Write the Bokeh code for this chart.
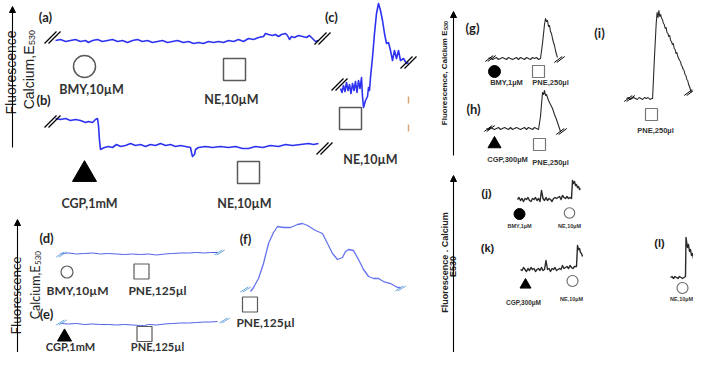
from bokeh.plotting import figure
from bokeh.models import Range1d, Arrow, NormalHead
from bokeh.core.properties import value
from bokeh.embed import file_html
from bokeh.resources import INLINE

# ---------------- data (time, relative fluorescence) ----------------
a_t = [0,5,10,15,20,25,30,33,37,42,47,52,57,62,67,72,77,82,87,92,97,102,107,112,117,122,128,133,138,143,
       148,153,158,163,168,173,178,183,188,193,198,203,208,210,213,217,220,223,226,230,232,234,236,239,243,
       247,251,254,257,260,263]
a_f = [0,1,-1,0,1,-1,0,-2,0,1,-1,0,1,-1,0,-2,0,1,-1,0,-2,-1,0,-2,-1,0,-2,-1,-3,-2,
       -3,-1,-2,-1,-2,0,-1,1,-1,2,1,3,4,7,6,5,6,4,6,7,5,1,4,3,5,
       4,3,5,2,-1,0]

b_t = [0,5,10,15,20,25,30,33,37,40,42,43,44,45,49,53,57,61,65,70,75,80,85,90,95,100,105,110,115,120,
       125,130,135,136,137,139,140,143,150,157,165,173,180,187,193,200,207,215,223,230,237,245,253,258,263]
b_f = [0,-1,0,-2,-1,-2,-4,-3,-4,-1,0,-7,-22,-31,-29,-28,-29,-26,-28,-27,-25,-27,-26,-28,-26,-27,-25,-27,-26,-28,
       -27,-28,-29,-34,-38,-36,-31,-29,-28,-29,-28,-29,-28,-30,-30,-28,-29,-27,-28,-26,-27,-26,-25,-26,-25]

c_t = [0,1.5,3,4.5,6,7.5,9,10.5,12,13.5,15,16.5,18,19.5,21,22,23,25,27,28,
       29,30,32,34,36,38,40,42,44,46,48,50,52,54,56,58,60,63,66,68]
c_f = [0,-4,3,-3,6,-2,4,-5,5,-2,7,-4,8,0,11,-8,-19,-12,-8,1,
       -2,11,31,55,75,85,78,68,55,45,46,38,28,38,30,38,28,30,25,26]

d_t = [0,8,16,24,32,40,48,56,64,72,80,88,96,104,112,120,128,136,144,150,157]
d_f = [0,0.5,-0.5,0,0.5,-0.5,0,-0.5,-1,-0.5,-1,-0.5,-1.5,-0.5,0,0.5,0.5,1,0.5,1,1]

e_t = [0,8,16,24,32,40,48,56,64,72,80,83,83.5,84,88,96,104,112,120,128,136,144,150,157]
e_f = [0,-0.5,0,-1,-0.5,-1,-1,-1.5,-1,-1.5,-2,-2,-5,-2,-1,-1.5,-0.5,0,0.5,0.5,1,1.5,1.5,2]

f_t = [0,3,8,13,18,23,27,33,40,47,52,57,65,72,77,82,87,92,95,98,103,108,113,118,123,128,133,140,147,150]
f_f = [0,4,13,28,48,59,65,64,64,67,68,66,61,58,48,38,32,34,40,42,41,32,22,15,13,13,10,8,4,4]

g_t = [0,2,4,6,8,10,12,14,16,18,20,22,24,26,28,30,32,34,36,38,40,42,44,46,48,50,52,
       54,56,57,58,59,60,61,62,63,64,65,66,67,68,69]
g_f = [0,1,-1,0,1,-1,0,1,0,-1,1,0,-1,0,1,-1,1,0,-1,1,0,-1,1,0,1,-1,0,
       15,34,40,37,38,32,33,27,25,20,16,13,8,4,1]

h_t = [0,2,4,6,8,10,12,14,16,18,20,22,24,26,28,30,32,34,36,38,40,42,44,46,48,50,52,
       54,56,57,58,59,60,62,64,66,68,70,72,74]
h_f = [0,-1,1,0,-1,0,1,-1,0,1,0,-1,1,-1,0,1,0,-1,0,1,-1,1,0,-1,1,0,-1,
       12,36,34,38,33,34,28,24,20,14,9,3,-3]

i_t = [0,2,4,6,8,10,12,14,16,18,20,22,24,26,28,29,31,33,34,35,36,37,38,
       39,40,41,42,43,44,45,46,47,48,49,50,51,52,53,54,55,56,57,58,59,60,61,62,63,64,65,66,67,68,69,70,71,72]
i_f = [0,1,-1,0,1,0,-1,1,0,-1,1,0,1,-1,0,0,40,75,86,81,88,82,84,
       80,79,75,74,70,71,66,65,62,63,58,57,54,55,50,49,45,46,42,40,38,37,33,32,29,28,24,23,19,18,14,12,9,6]

j_t = [0,1.5,3,4.5,6,7.5,9,10.5,12,13.5,15,16.5,18,19.5,21,22.5,24,25.5,27,28.5,30,31.5,33,34.5,36,37.5,
       39,40.5,42,43.5,45,46.5,48,49.5,51,52.5,54,55,56,57,58,59,60,61,62,63]
j_f = [0,2,-1,1,-2,1,0,2,-1,-2,1,0,2,-1,1,-2,9,1,-1,2,-1,1,0,-2,1,2,
       1,2,3,0,4,2,1,3,1,2,1,19,16,18,14,15,12,13,10,11]

k_t = [0,1.5,3,4.5,6,7.5,9,10.5,12,13.5,15,16.5,18,19.5,21,22.5,24,25.5,27,28.5,30,31.5,33,34.5,36,37.5,
       39,40.5,42,43.5,45,46.5,48,49.5,51,52.5,54,56,57,58,59,60,61,62]
k_f = [0,-1,2,0,-2,1,-1,2,0,1,-2,0,1,-1,2,-1,0,9,0,1,-2,1,0,2,-1,0,
       1,0,4,1,2,3,1,4,2,1,3,3,24,20,21,17,16,13]

l_t = [0,1.5,3,4.5,6,7.5,9,10.5,12,13.5,15,15.5,17,18,19,20,21,22,23,24]
l_f = [0,1,-1,1,0,-1,1,0,-1,0,1,40,30,33,26,28,22,24,19,18]

# ---------------- canvas (pixel layout) ----------------
W, H = 693, 352
p = figure(width=W, height=H, x_range=Range1d(0, W), y_range=Range1d(H, 0),
           output_backend="svg", toolbar_location=None, x_axis_type=None, y_axis_type=None,
           min_border=0, outline_line_color=None)
p.grid.visible = False
p.background_fill_color = "white"
p.border_fill_color = "white"


def trace(t, f, x0, y0, color, lw, sx=1.0, sy=1.0):
    p.line([x0 + sx * v for v in t], [y0 - sy * v for v in f],
           line_color=color, line_width=lw, line_join="round")


BLUE = "#2c32f0"
LBLUE = "#5262e6"
FBLUE = "#6573ee"
DARK = "#2a2a2a"

trace(a_t, a_f, 55, 40, BLUE, 1.6)
trace(b_t, b_f, 55, 118, BLUE, 1.6)
trace(c_t, c_f, 340, 88, BLUE, 1.6)
trace(d_t, d_f, 60, 253, LBLUE, 1.0)
trace(e_t, e_f, 60, 323, LBLUE, 1.0)
trace(f_t, f_f, 250, 291, FBLUE, 1.3)
trace(g_t, g_f, 488, 58, DARK, 1.1)
trace(h_t, h_f, 486, 128, DARK, 1.1)
trace(i_t, i_f, 626, 98, DARK, 1.1, sx=0.9)
trace(j_t, j_f, 517, 199, DARK, 1.4)
trace(k_t, k_f, 520, 269, DARK, 1.4)
trace(l_t, l_f, 670, 277, DARK, 1.4)


def breaks(centers, hx, hy, gap, color, lw):
    x0, y0, x1, y1 = [], [], [], []
    for cx, cy in centers:
        for off in (-gap / 2, gap / 2):
            x0.append(cx + off - hx); y0.append(cy + hy)
            x1.append(cx + off + hx); y1.append(cy - hy)
    p.segment(x0, y0, x1, y1, line_color=color, line_width=lw)


breaks([(52, 37), (322, 38), (52, 121), (324, 148), (339, 84), (408, 62)], 6, 6, 4, "black", 1.2)
breaks([(61, 254), (219, 252), (61, 322), (224, 320), (245, 289), (400, 288)], 4, 2.5, 2.5, "#6fa8dc", 1.0)
breaks([(490, 58), (559, 59), (489, 128), (561, 131), (629, 98), (689, 92)], 4, 3, 2.5, "black", 1.0)

# small tan ticks right of panel (c)
p.segment([408, 408], [96, 124], [408, 408], [103, 131], line_color="#d6a676", line_width=1.5)

# axis arrows
for x, yb, yt in [(12, 147, 6), (17, 352, 219), (453, 155, 11), (453, 352, 175)]:
    p.add_layout(Arrow(end=NormalHead(size=6, line_color="black", fill_color="black", line_width=1),
                       x_start=x, y_start=yb, x_end=x, y_end=yt, line_color="black", line_width=1.1))


def mk(x, y, marker, size, fill="white", line="#5a5a5a", lw=1.5):
    p.scatter([x], [y], marker=marker, size=size, fill_color=fill, line_color=line, line_width=lw)


mk(84, 66, "circle", 22)
mk(234, 69, "square", 22)
mk(84, 174, "triangle", 24, fill="black", line="black", lw=1)
mk(248, 172, "square", 22)
mk(350, 118, "square", 22)
mk(66.5, 271.5, "circle", 12, lw=1.2)
mk(141, 271, "square", 15, lw=1.2)
mk(64, 336.5, "triangle", 14, fill="black", line="black", lw=1)
mk(144, 333.5, "square", 15, lw=1.2)
mk(249.5, 304, "square", 15, lw=1.2)
mk(494, 71, "circle", 12, fill="black", line="black", lw=1)
mk(538, 71, "square", 12, line="#777", lw=1.2)
mk(494, 143.5, "triangle", 13, fill="black", line="black", lw=1)
mk(539, 144, "square", 12, line="#777", lw=1.2)
mk(651, 114, "square", 12, line="#777", lw=1.2)
mk(519, 213.5, "circle", 11, fill="black", line="black", lw=1)
mk(569, 212.5, "circle", 10.5, line="#666", lw=1.1)
mk(525, 284.4, "triangle", 11, fill="black", line="black", lw=1)
mk(572, 280.5, "circle", 11, line="#666", lw=1.1)
mk(682, 287.5, "circle", 11, line="#666", lw=1.1)


def label(x, y, s, size, font="Lato", style="bold", color="#333333", angle=0.0,
          align="center", baseline="middle"):
    p.text(x=[x], y=[y], text=[s], text_font=value(font), text_font_size=f"{size}px",
           text_font_style=style, text_color=color, angle=angle,
           text_align=align, text_baseline=baseline)


V = 1.5707963267948966
# axis titles (rotated)
label(10.5, 72, "Fluorescence", 14, font="Liberation Sans", style="normal", color="#222", angle=V,
      baseline="alphabetic")
label(28.5, 45, "Calcium,E", 14, font="Liberation Sans", style="normal", color="#222", angle=V,
      align="right", baseline="alphabetic")
label(31.5, 44.5, "530", 9, font="Liberation Sans", style="normal", color="#222", angle=V,
      align="left", baseline="alphabetic")
label(15, 295, "Fluorescence", 13.5, style="normal", color="#222", angle=V, baseline="alphabetic")
label(35, 265, "Calcium,E", 12.5, style="normal", color="#222", angle=V,
      align="right", baseline="alphabetic")
label(37.5, 264.5, "530", 8, style="normal", color="#222", angle=V,
      align="left", baseline="alphabetic")
label(444, 30, "Fluorescence, Calcium E", 8, font="Liberation Sans", color="#222", angle=V,
      align="right", baseline="alphabetic")
label(445.5, 29.5, "530", 5.5, font="Liberation Sans", color="#222", angle=V,
      align="left", baseline="alphabetic")
label(444, 262, "Fluorescence . Calcium", 9, font="Liberation Sans", color="#222", angle=V,
      baseline="alphabetic")
label(452, 266, "E530", 9, font="Liberation Sans", color="#222", angle=V, baseline="alphabetic")

# panel letters
for x, y, s in [(45, 16, "(a)"), (43, 99, "(b)"), (331, 16, "(c)"), (46, 237, "(d)"),
                (46, 313, "(e)"), (245, 238, "(f)"), (472, 27, "(g)"), (473, 108, "(h)"),
                (599, 32, "(i)")]:
    label(x, y, s, 13, color="#222")
for x, y, s in [(486, 192, "(j)"), (487, 247, "(k)"), (659, 242, "(l)")]:
    label(x, y, s, 11, font="Liberation Sans", color="#222")

# drug labels
for x, y, s in [(91, 89, "BMY,10µM"), (231, 99, "NE,10µM"), (89, 203, "CGP,1mM"),
                (244, 203, "NE,10µM"), (370, 159, "NE,10µM")]:
    label(x, y, s, 12.5)
for x, y, s in [(77, 290, "BMY,10µM"), (157, 290, "PNE,125µl"), (265, 322, "PNE,125µl")]:
    label(x, y, s, 12)
for x, y, s in [(70, 345.5, "CGP,1mM"), (157, 345.5, "PNE,125µl")]:
    label(x, y, s, 11)
for x, y, s in [(506, 82, "BMY,1µM"), (550, 82, "PNE,250µl"), (507, 159, "CGP,300µM"),
                (550, 162, "PNE,250µl"), (655, 130, "PNE,250µl")]:
    label(x, y, s, 7.5, font="Liberation Sans")
for x, y, s, fs in [(519, 225, "BMY,1µM", 5.5), (569, 225, "NE,10µM", 5.5), (523, 302, "CGP,300µM", 6.5),
                    (571, 298, "NE,10µM", 5.5), (681, 298, "NE,10µM", 5.5)]:
    label(x, y, s, fs, font="Liberation Sans")

open("out.html", "w").write(file_html(p, INLINE))
